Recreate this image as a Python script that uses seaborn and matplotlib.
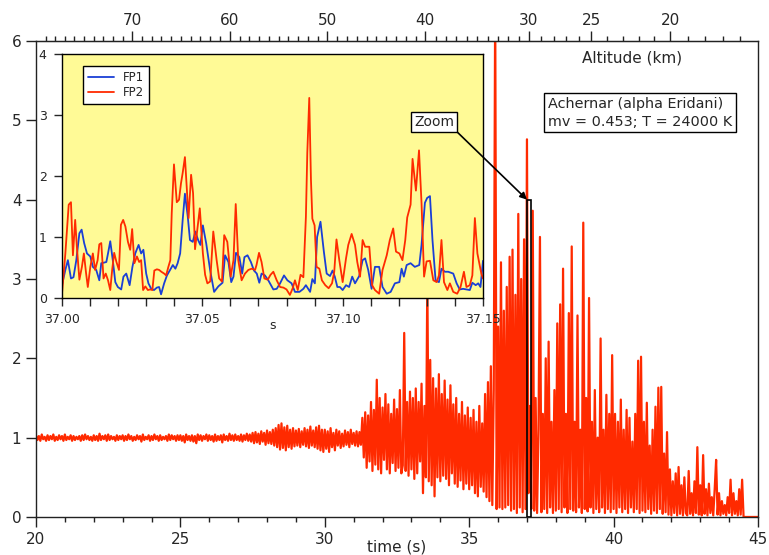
import numpy as np
import pandas as pd
import matplotlib
matplotlib.use("Agg")
import matplotlib.pyplot as plt
import seaborn as sns
from matplotlib.patches import Rectangle
from matplotlib.ticker import MultipleLocator, FixedLocator, FormatStrFormatter

# --- main light curve, sampled every 0.05 s from 20 s to 45 s ---
flux_20_25 = [
    1.03, 0.97, 1.02, 0.96, 1.04, 0.98, 1.01, 0.96, 1.03, 0.97,
    1.02, 0.98, 1.04, 0.96, 1.01, 0.97, 1.03, 0.98, 1.02, 0.96,
    1.04, 0.97, 1.01, 0.98, 1.03, 0.96, 1.02, 0.97, 1.01, 0.98,
    1.02, 0.96, 1.03, 0.97, 1.04, 0.98, 1.02, 0.97, 1.01, 0.96,
    1.03, 0.97, 1.02, 0.96, 1.05, 0.97, 1.02, 0.98, 1.03, 0.96,
    1.04, 0.97, 1.02, 0.98, 1.01, 0.96, 1.03, 0.97, 1.02, 0.98,
    1.03, 0.96, 1.02, 0.97, 1.04, 0.98, 1.02, 0.96, 1.01, 0.97,
    1.03, 0.98, 1.02, 0.95, 1.04, 0.97, 1.01, 0.98, 1.03, 0.96,
    1.02, 0.97, 1.04, 0.98, 1.02, 0.96, 1.03, 0.97, 1.01, 0.98,
    1.02, 0.96, 1.04, 0.97, 1.03, 0.98, 1.02, 0.96, 1.03, 0.97]
flux_25_30 = [
    1.03, 0.96, 1.02, 0.94, 1.04, 0.97, 1.02, 0.96, 1.03, 0.95,
    1.02, 0.93, 1.04, 0.97, 1.03, 0.96, 1.02, 0.98, 1.04, 0.96,
    1.03, 0.97, 1.02, 0.95, 1.04, 0.96, 1.02, 0.97, 1.03, 0.94,
    1.04, 0.97, 1.02, 0.96, 1.05, 0.97, 1.03, 0.96, 1.04, 0.97,
    1.02, 0.96, 1.04, 0.95, 1.03, 0.97, 1.05, 0.96, 1.04, 0.95,
    1.06, 0.93, 1.07, 0.94, 1.05, 0.92, 1.08, 0.95, 1.06, 0.91,
    1.09, 0.93, 1.07, 0.92, 1.10, 0.90, 1.12, 0.88, 1.16, 0.85,
    1.18, 0.87, 1.13, 0.84, 1.15, 0.88, 1.10, 0.86, 1.12, 0.89,
    1.09, 0.90, 1.11, 0.88, 1.08, 0.91, 1.12, 0.89, 1.10, 0.87,
    1.14, 0.90, 1.09, 0.88, 1.13, 0.86, 1.15, 0.84, 1.10, 0.82]
flux_30_35 = [
    1.10, 0.86, 1.08, 0.82, 1.12, 0.88, 1.06, 0.84, 1.10, 0.90,
    1.08, 0.87, 1.05, 0.89, 1.09, 0.91, 1.07, 0.88, 1.10, 0.92,
    1.06, 0.90, 1.08, 0.89, 1.07, 0.91, 1.25, 0.75, 1.32, 0.62,
    1.28, 0.70, 1.45, 0.58, 1.35, 0.66, 1.73, 0.60, 1.50, 0.55,
    1.38, 0.72, 1.55, 0.60, 1.42, 0.55, 1.30, 0.68, 1.48, 0.58,
    1.36, 0.62, 1.60, 0.55, 0.65, 2.32, 0.58, 1.45, 0.52, 1.58,
    0.60, 1.50, 0.48, 1.62, 0.55, 1.45, 0.70, 1.68, 0.30, 1.40,
    0.50, 3.00, 0.45, 1.98, 0.40, 1.75, 0.26, 1.62, 0.50, 1.80,
    0.45, 1.55, 0.52, 1.72, 0.48, 1.48, 0.40, 1.66, 0.55, 1.42,
    0.42, 1.50, 0.38, 1.30, 0.46, 1.45, 0.35, 1.28, 0.42, 1.38]
flux_35_40 = [
    0.35, 1.25, 0.40, 1.35, 0.30, 1.20, 0.26, 1.40, 0.38, 1.18,
    0.32, 1.55, 0.25, 1.70, 0.20, 1.90, 0.15, 1.60, 6.50, 0.10,
    2.40, 0.12, 3.21, 0.10, 2.60, 0.12, 2.90, 0.15, 3.28, 0.08,
    3.37, 0.10, 2.80, 0.05, 3.82, 0.12, 3.00, 0.06, 3.50, 0.10,
    4.76, 0.30, 1.40, 0.10, 3.86, 0.08, 1.50, 0.05, 1.10, 3.53,
    0.06, 1.30, 0.10, 2.00, 0.05, 2.21, 0.12, 1.20, 0.05, 1.60,
    0.08, 2.44, 0.10, 2.68, 0.06, 3.13, 0.12, 1.30, 0.05, 2.57,
    0.10, 3.41, 0.08, 1.20, 0.06, 2.54, 0.12, 1.10, 0.05, 3.71,
    0.10, 1.50, 0.07, 2.76, 0.12, 1.20, 0.05, 1.60, 0.10, 1.00,
    0.06, 2.25, 0.12, 1.10, 0.05, 1.54, 0.10, 1.30, 0.06, 2.04]
flux_40_45 = [
    0.10, 1.30, 0.05, 1.20, 0.12, 1.48, 0.06, 1.10, 0.10, 1.35,
    0.05, 1.25, 0.12, 0.95, 0.06, 1.30, 0.10, 1.97, 0.05, 2.02,
    0.08, 1.20, 0.06, 1.44, 0.10, 0.90, 0.04, 1.10, 0.08, 1.39,
    0.05, 1.63, 0.10, 1.64, 0.04, 0.80, 0.06, 1.07, 0.03, 0.60,
    0.02, 0.45, 0.05, 0.55, 0.02, 0.63, 0.04, 0.40, 0.02, 0.50,
    0.05, 0.02, 0.58, 0.04, 0.30, 0.02, 0.45, 0.05, 0.88, 0.03,
    0.40, 0.02, 0.78, 0.04, 0.35, 0.02, 0.42, 0.05, 0.25, 0.02,
    0.35, 0.72, 0.03, 0.30, 0.02, 0.20, 0.04, 0.15, 0.02, 0.25,
    0.05, 0.47, 0.02, 0.30, 0.04, 0.20, 0.02, 0.35, 0.03, 0.47,
    0.00, 0.00, 0.00, 0.00, 0.00, 0.00, 0.00, 0.00, 0.00, 0.00, 0.00]

# --- zoom 37.00 - 37.15 s, times in ms after 37.00 s ---
fp1_ms = [0, 1.2, 2.1, 3.2, 4.1, 5.1, 6.2, 7.0, 7.9, 8.9, 10.1, 11.0, 12.2, 13.3,
          14.0, 15.0, 15.8, 16.4, 17.2, 18.1, 19.0, 19.9, 21.1, 21.9, 22.9, 24.1,
          25.1, 26.1, 27.3, 28.2, 29.0, 30.0, 30.8, 31.8, 32.8, 33.8, 34.6, 35.3,
          36.4, 37.4, 38.5, 39.5, 40.4, 41.2, 42.1, 43.0, 43.8, 44.8, 45.6, 46.6,
          47.5, 48.5, 49.3,
          50.2, 51.4, 52.8, 54.2, 55.7, 57.2, 58.1, 59.3, 60.3, 61.1, 62.0, 63.2,
          64.2, 65.0, 66.1, 67.3, 68.4, 69.4, 70.3, 71.1, 72.3, 73.5, 75.3, 76.5,
          77.7, 79.1, 80.3, 81.8, 83.0, 84.6, 86.0, 86.9, 88.4, 89.2, 90.1, 90.9,
          92.1, 93.3, 94.3, 95.5, 96.4, 97.2, 98.1,
          99.0, 100.0, 101.2, 102.3, 103.4, 104.4, 105.9, 107.1, 108.0, 109.1,
          110.3, 111.5, 113.0, 114.2, 115.7, 117.1, 118.6, 120.2, 121.0, 121.8,
          122.8, 124.2, 125.7, 127.3, 128.1, 129.3, 130.1, 131.1, 132.0, 133.1,
          134.3, 135.2, 136.4, 137.6, 139.4, 140.6, 141.7, 142.9, 144.1, 145.3,
          146.2, 147.4, 148.3, 149.1, 150.0]
fp1_val = [0.21, 0.46, 0.62, 0.32, 0.34, 0.62, 1.06, 1.12, 0.90, 0.73, 0.68, 0.51, 0.46, 0.29,
           0.57, 0.58, 0.59, 0.73, 0.93, 0.62, 0.26, 0.18, 0.14, 0.35, 0.40, 0.21,
           0.51, 0.73, 0.87, 0.73, 0.79, 0.40, 0.24, 0.15, 0.13, 0.17, 0.18, 0.06,
           0.24, 0.37, 0.46, 0.54, 0.48, 0.57, 0.73, 1.28, 1.71, 1.34, 0.95, 0.92,
           1.09, 0.95, 0.87,
           1.19, 0.89, 0.45, 0.10, 0.19, 0.25, 0.70, 0.59, 0.26, 0.35, 0.74, 0.67,
           0.40, 0.67, 0.70, 0.59, 0.45, 0.40, 0.25, 0.40, 0.37, 0.29, 0.14, 0.15,
           0.24, 0.37, 0.29, 0.24, 0.10, 0.10, 0.15, 0.21, 0.10, 0.31, 0.24, 1.00,
           1.25, 0.76, 0.40, 0.36, 0.45, 0.35, 0.18,
           0.18, 0.13, 0.21, 0.18, 0.35, 0.24, 0.36, 0.62, 0.65, 0.46,
           0.15, 0.51, 0.51, 0.18, 0.07, 0.10, 0.24, 0.26, 0.48, 0.35,
           0.54, 0.57, 0.51, 0.54, 0.87, 1.56, 1.64, 1.67, 0.95, 0.29,
           0.26, 0.48, 0.43, 0.43, 0.40, 0.24, 0.14, 0.15, 0.14, 0.13,
           0.25, 0.21, 0.24, 0.18, 0.61]
fp2_ms = [0, 1.2, 2.4, 3.2, 3.9, 4.7, 5.3, 6.2, 7.1, 7.8, 8.6, 9.2, 10.1, 11.0, 11.8,
          12.7, 13.3, 14.0, 14.8, 15.6, 16.4, 17.2, 17.9, 18.6, 19.4, 20.3, 21.0,
          21.8, 22.6, 23.5, 24.3, 25.0, 25.8, 26.7, 27.5, 28.2, 28.9, 29.7, 30.6,
          31.4, 32.2, 32.9, 33.8, 34.6, 35.4, 36.4, 37.1, 37.9, 38.6, 39.1, 39.9,
          40.9, 41.7, 42.4, 43.0, 43.8, 44.5, 45.1, 46.0, 46.7, 47.4, 48.2, 49.1,
          50.2, 51.0, 51.8, 52.8, 53.9, 55.1, 56.0, 57.0, 57.8, 58.9, 60.1, 61.1,
          61.9, 62.8, 64.0, 65.2, 66.4, 67.6, 68.8, 69.3, 70.2, 71.1, 72.1, 73.3,
          74.3, 75.3, 76.5, 77.7, 78.9, 80.0, 81.2, 82.2, 83.0, 84.0, 85.0, 86.0,
          86.9, 87.4, 88.1, 88.7, 89.2, 90.0, 90.7, 91.7, 92.6, 93.8, 95.0, 96.2,
          97.0, 97.8, 98.8,
          100.0, 101.2, 102.0, 103.2, 104.4, 105.2, 106.2, 107.1, 108.0, 109.5,
          110.5, 111.5, 113.0, 114.2, 115.7, 116.8, 118.0, 119.0, 120.2, 121.3,
          122.3, 123.0, 124.2, 124.9, 126.1, 127.2, 128.1, 129.0, 129.9, 131.1,
          132.3, 133.5, 134.3, 135.2, 136.1, 137.3, 138.2, 139.4, 140.8, 142.0,
          143.2, 144.1, 145.3, 146.2, 147.1, 148.0, 149.4, 150.0]
fp2_val = [0.07, 0.73, 1.53, 1.57, 0.70, 1.28, 0.84, 0.30, 0.51, 0.73, 0.40, 0.18, 0.51, 0.73, 0.46,
           0.62, 0.88, 0.90, 0.32, 0.40, 0.29, 0.13, 0.47, 0.74, 0.59, 0.46, 1.20,
           1.28, 1.17, 0.92, 0.79, 1.13, 0.57, 0.68, 0.59, 0.62, 0.13, 0.19, 0.13,
           0.14, 0.13, 0.45, 0.47, 0.46, 0.43, 0.40, 0.37, 0.51, 0.62, 1.39, 2.19,
           1.57, 1.61, 1.88, 2.05, 2.31, 1.77, 1.31, 2.02, 1.72, 0.80, 1.12, 1.47,
           0.73, 0.38, 0.24, 0.27, 1.09, 0.62, 0.32, 0.27, 1.03, 0.92, 0.35, 0.62,
           1.54, 0.62, 0.29, 0.40, 0.46, 0.48, 0.46, 0.54, 0.74, 0.59, 0.32, 0.30,
           0.38, 0.43, 0.29, 0.18, 0.17, 0.14, 0.05, 0.16, 0.29, 0.13, 0.38, 0.34,
           1.33, 2.38, 3.28, 1.94, 1.30, 1.19, 0.51, 0.48, 0.29, 0.21, 0.16, 0.24,
           0.43, 0.96, 0.62,
           0.26, 0.65, 0.87, 1.05, 0.87, 0.59, 0.35, 0.95, 0.84, 0.84,
           0.21, 0.13, 0.07, 0.46, 0.70, 0.95, 1.14, 0.76, 0.73, 0.62,
           0.95, 1.32, 1.53, 2.28, 1.76, 2.42, 1.55, 0.35, 0.60, 0.61,
           0.29, 0.26, 0.37, 0.95, 0.26, 0.13, 0.24, 0.10, 0.07, 0.18,
           0.43, 0.18, 0.21, 0.37, 1.31, 0.73, 0.40, 0.32]

# altitude scale on the top axis (time in s <-> altitude in km)
alt_time = [20, 23.33, 26.71, 30.09, 33.48, 37.07, 39.23, 41.96, 45]
alt_km = [80, 70, 60, 50, 40, 30, 25, 20, 15]
alt_major = [70, 60, 50, 40, 30, 25, 20]

RED = "#ff2a00"
BLUE = "#1a3fd6"
YELLOW = "#fffa96"

sns.set_style("ticks")
plt.rcParams["font.family"] = ["DejaVu Sans"]

fig = plt.figure(figsize=(7.69, 5.55), dpi=100)
ax = fig.add_axes([0.0468, 0.0685, 0.9389, 0.8577])

flux = np.concatenate([flux_20_25, flux_25_30, flux_30_35, flux_35_40, flux_40_45])
time = np.linspace(20, 45, len(flux))
sns.lineplot(x=time, y=flux, ax=ax, color=RED, lw=1.6, estimator=None, sort=False)

ax.set_xlim(20, 45)
ax.set_ylim(0, 6)
ax.xaxis.set_major_locator(MultipleLocator(5))
ax.xaxis.set_minor_locator(MultipleLocator(1))
ax.yaxis.set_major_locator(MultipleLocator(1))
ax.tick_params(which="major", direction="out", length=7, width=1, labelsize=11, color="#222222")
ax.tick_params(which="minor", direction="out", length=3.5, width=1, color="#222222")
for sp in ax.spines.values():
    sp.set_color("#222222")
    sp.set_linewidth(1)
ax.set_xlabel("time (s)", fontsize=11)
ax.xaxis.set_label_coords(0.5, -0.048)
ax.set_ylabel("")


def t2alt(x):
    return np.interp(x, alt_time, alt_km)


def alt2t(a):
    return np.interp(-np.asarray(a, dtype=float), [-v for v in alt_km], alt_time)


top = ax.secondary_xaxis("top", functions=(t2alt, alt2t))
top.set_xticks(alt_major)
top.xaxis.set_minor_locator(FixedLocator([k for k in range(16, 80) if k not in alt_major]))
top.tick_params(which="major", direction="out", length=7, width=1, labelsize=11,
                color="#222222", pad=2)
top.tick_params(which="minor", direction="out", length=3.5, width=1, color="#222222")
ax.text(0.825, 0.964, "Altitude (km)", transform=ax.transAxes, ha="center", va="center", fontsize=11)

ax.text(0.709, 0.849, "Achernar (alpha Eridani)\nmv = 0.453; T = 24000 K",
        transform=ax.transAxes, ha="left", va="center", fontsize=10.4, linespacing=1.35,
        bbox=dict(boxstyle="square,pad=0.25", fc="white", ec="black", lw=1))

ax.add_patch(Rectangle((37.0, 0), 0.15, 4, fill=False, ec="black", lw=1.2, zorder=5))

# inset
ax_in = fig.add_axes([0.0806, 0.4631, 0.5475, 0.4396])
ax_in.set_facecolor(YELLOW)
zoom = pd.DataFrame({
    "time": np.concatenate([37.0 + np.array(fp1_ms) / 1000, 37.0 + np.array(fp2_ms) / 1000]),
    "signal": np.concatenate([fp1_val, fp2_val]),
    "detector": ["FP1"] * len(fp1_ms) + ["FP2"] * len(fp2_ms),
})
sns.lineplot(data=zoom, x="time", y="signal", hue="detector", hue_order=["FP1", "FP2"],
             palette={"FP1": BLUE, "FP2": RED}, ax=ax_in, lw=1.3, estimator=None)
ax_in.set_xlim(37.0, 37.15)
ax_in.set_ylim(0, 4)
ax_in.set_xticks([37.00, 37.05, 37.10, 37.15])
ax_in.xaxis.set_major_formatter(FormatStrFormatter("%.2f"))
ax_in.xaxis.set_minor_locator(MultipleLocator(0.01))
ax_in.yaxis.set_major_locator(MultipleLocator(1))
ax_in.tick_params(which="major", direction="out", length=6, width=1, labelsize=9, pad=5)
ax_in.tick_params(which="minor", direction="out", length=6, width=1)
for sp in ax_in.spines.values():
    sp.set_color("black")
    sp.set_linewidth(1)
ax_in.set_ylabel("")
ax_in.set_xlabel("s", fontsize=9)
ax_in.xaxis.set_label_coords(0.5, -0.088)
leg = ax_in.legend(title=None, loc="upper left", bbox_to_anchor=(0.05, 0.95), borderaxespad=0,
                   fontsize=8.5, fancybox=False, edgecolor="black", framealpha=1,
                   handlelength=2.2, borderpad=0.4, labelspacing=0.2)
leg.get_frame().set_linewidth(1)

ax_in.annotate("Zoom", xy=(37.0, 4.0), xycoords=ax.transData,
               xytext=(33.78, 4.98), textcoords=ax.transData,
               ha="center", va="center", fontsize=10, annotation_clip=False,
               bbox=dict(boxstyle="square,pad=0.2", fc="white", ec="black", lw=1),
               arrowprops=dict(arrowstyle="-|>", color="black", lw=1.2, relpos=(1, 0),
                               shrinkA=0, shrinkB=0, mutation_scale=10))

fig.savefig("out.png", dpi=100)
